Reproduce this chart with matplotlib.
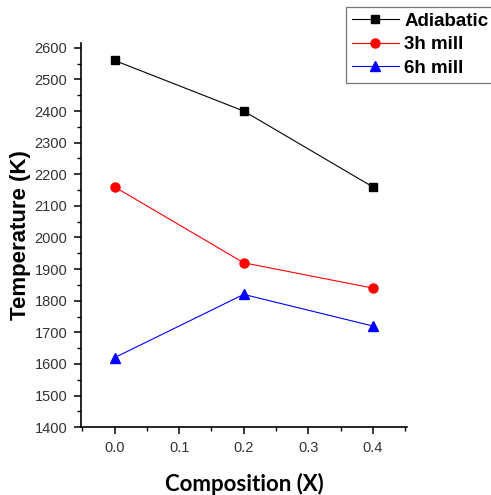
import numpy as np
import matplotlib.pyplot as plt
from matplotlib.ticker import MultipleLocator

# values
composition = [0.0, 0.2, 0.4]
adiabatic = [2560, 2400, 2160]
mill_3h = [2160, 1920, 1840]
mill_6h = [1620, 1820, 1720]

plt.rcParams['font.family'] = ['Liberation Sans', 'DejaVu Sans']

fig = plt.figure(figsize=(4.91, 4.95), dpi=100)
ax = fig.add_axes([0.165, 0.137, 0.664, 0.776])

ax.plot(composition, adiabatic, '-s', color='black', lw=0.8, ms=5.5, label='Adiabatic')
ax.plot(composition, mill_3h, '-o', color='red', mfc='red', mec='red', lw=0.8, ms=6.5, label='3h mill')
ax.plot(composition, mill_6h, '-^', color='blue', mfc='blue', mec='blue', lw=0.8, ms=7, label='6h mill')

ax.set_xlim(-0.052, 0.453)
ax.set_ylim(1400, 2615)
ax.xaxis.set_major_locator(MultipleLocator(0.1))
ax.xaxis.set_minor_locator(MultipleLocator(0.05))
ax.yaxis.set_major_locator(MultipleLocator(100))
ax.yaxis.set_minor_locator(MultipleLocator(50))
ax.set_xticks([0.0, 0.1, 0.2, 0.3, 0.4])
ax.set_xticklabels(['0.0', '0.1', '0.2', '0.3', '0.4'])

for s in ['top', 'right']:
    ax.spines[s].set_visible(False)
for s in ['left', 'bottom']:
    ax.spines[s].set_linewidth(1.2)

ax.tick_params(which='major', direction='out', length=5, width=1.1, labelsize=10.5,
               labelcolor='#333333', pad=5)
ax.tick_params(which='minor', direction='out', length=3, width=1.0)

ax.set_ylabel('Temperature (K)', fontsize=16, fontweight='bold', labelpad=2)
ax.set_xlabel('Composition (X)', fontsize=16, fontweight='bold', family=['Lato', 'DejaVu Sans'],
              labelpad=13)

leg = fig.legend(loc='upper left', bbox_to_anchor=(0.705, 0.986),
                 prop={'weight': 'bold', 'size': 13.5}, frameon=True, fancybox=False,
                 borderpad=0.3, labelspacing=0.35, handlelength=2.5, handletextpad=0.3,
                 borderaxespad=0)
leg.get_frame().set_edgecolor('#555555')
leg.get_frame().set_linewidth(0.9)

fig.savefig('out.png', dpi=100)
